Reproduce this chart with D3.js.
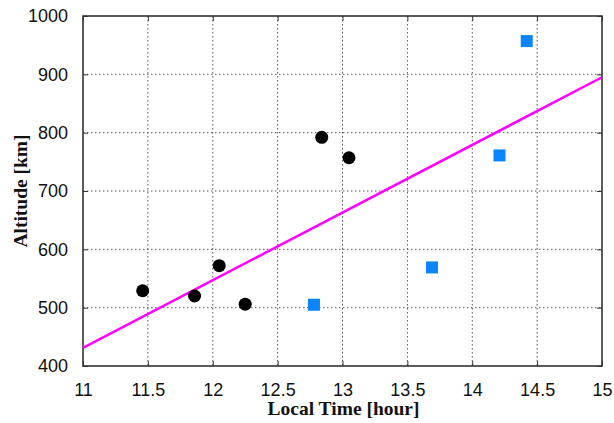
<!DOCTYPE html>
<html>
<head>
<meta charset="utf-8">
<script src="https://cdn.jsdelivr.net/npm/d3@7"></script>
<style>
  body { margin: 0; background: #fff; }
</style>
</head>
<body>
<div id="chart"></div>
<script>
// Data
var circleTime = [11.46, 11.86, 12.05, 12.25, 12.84, 13.05];
var circleAlt  = [529, 520, 572, 506, 792, 757];
var squareTime = [12.78, 13.69, 14.21, 14.42];
var squareAlt  = [505, 569, 761, 957];
var fitTime = [11, 15];
var fitAlt  = [431, 895];
var xTicks = [11, 11.5, 12, 12.5, 13, 13.5, 14, 14.5, 15];
var yTicks = [400, 500, 600, 700, 800, 900, 1000];

var W = 614, H = 423;
var margin = { top: 16, right: 12, bottom: 57, left: 83 };
var width = W - margin.left - margin.right;
var height = H - margin.top - margin.bottom;

var svg = d3.select("#chart").append("svg")
    .attr("width", W).attr("height", H)
    .append("g")
    .attr("transform", "translate(" + margin.left + "," + margin.top + ")");

var x = d3.scaleLinear().domain([11, 15]).range([0, width]);
var y = d3.scaleLinear().domain([400, 1000]).range([height, 0]);

// Grid
svg.append("g").selectAll("line").data(xTicks.slice(1, -1)).enter().append("line")
    .attr("x1", function (d) { return x(d); }).attr("x2", function (d) { return x(d); })
    .attr("y1", 0).attr("y2", height)
    .attr("stroke", "#555").attr("stroke-width", 1).attr("stroke-dasharray", "1.5,2.5");
svg.append("g").selectAll("line").data(yTicks.slice(1, -1)).enter().append("line")
    .attr("y1", function (d) { return y(d); }).attr("y2", function (d) { return y(d); })
    .attr("x1", 0).attr("x2", width)
    .attr("stroke", "#555").attr("stroke-width", 1).attr("stroke-dasharray", "1.5,2.5");

// Axes (ticks inside)
svg.append("g").attr("transform", "translate(0," + height + ")")
    .call(d3.axisBottom(x).tickValues(xTicks).tickSize(-5).tickPadding(17).tickFormat(d3.format("")));
svg.append("g")
    .call(d3.axisLeft(y).tickValues(yTicks).tickSize(-5).tickPadding(15).tickFormat(d3.format("d")));
svg.append("g").attr("transform", "translate(" + width + ",0)")
    .call(d3.axisRight(y).tickValues(yTicks).tickSize(-5).tickFormat(""));
svg.append("g")
    .call(d3.axisTop(x).tickValues(xTicks).tickSize(-5).tickFormat(""));
svg.selectAll(".domain").remove();
svg.selectAll(".tick line").attr("stroke", "#333");
svg.selectAll(".tick text")
    .attr("font-family", "'Liberation Sans', Arial, sans-serif")
    .attr("font-size", "18px")
    .attr("fill", "#111");

// Frame
svg.append("rect").attr("width", width).attr("height", height)
    .attr("fill", "none").attr("stroke", "#333").attr("stroke-width", 1.6);

// Fit line
var line = d3.line()
    .x(function (d) { return x(d[0]); })
    .y(function (d) { return y(d[1]); });
svg.append("path")
    .datum(d3.zip(fitTime, fitAlt))
    .attr("d", line)
    .attr("fill", "none").attr("stroke", "#ff00ff").attr("stroke-width", 2.5);

// Circles
svg.append("g").selectAll("circle").data(d3.zip(circleTime, circleAlt)).enter().append("circle")
    .attr("cx", function (d) { return x(d[0]); })
    .attr("cy", function (d) { return y(d[1]); })
    .attr("r", 6.5).attr("fill", "#000");

// Squares
var s = 12;
svg.append("g").selectAll("rect.sq").data(d3.zip(squareTime, squareAlt)).enter().append("rect")
    .attr("class", "sq")
    .attr("x", function (d) { return x(d[0]) - s / 2; })
    .attr("y", function (d) { return y(d[1]) - s / 2; })
    .attr("width", s).attr("height", s).attr("fill", "#0a84ff");

// Titles
function title(sel) {
    return sel.attr("font-family", "'Liberation Serif', 'Times New Roman', serif")
        .attr("font-weight", "bold").attr("font-size", "19.5px").attr("fill", "#111")
        .attr("text-anchor", "middle");
}
title(svg.append("text"))
    .attr("x", width / 2 + 1).attr("y", height + 49)
    .text("Local Time [hour]");
title(svg.append("text"))
    .attr("transform", "translate(" + (-56) + "," + (height / 2) + ") rotate(-90)")
    .text("Altitude [km]");
</script>
</body>
</html>
